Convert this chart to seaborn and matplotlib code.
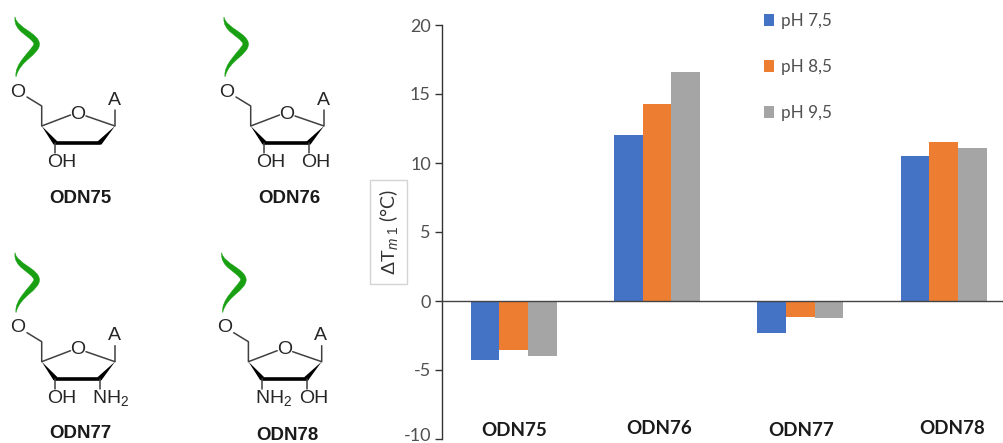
import matplotlib
matplotlib.use("Agg")
import matplotlib.pyplot as plt
from matplotlib.path import Path
from matplotlib.patches import PathPatch, Polygon, Rectangle
from matplotlib.transforms import Affine2D, ScaledTranslation
import pandas as pd
import seaborn as sns

categories = ["ODN75", "ODN76", "ODN77", "ODN78"]
ph_75 = [-4.3, 12.0, -2.3, 10.5]
ph_85 = [-3.55, 14.3, -1.15, 11.5]
ph_95 = [-3.95, 16.6, -1.25, 11.1]
series_names = ["pH 7,5", "pH 8,5", "pH 9,5"]
colors = ["#4472C4", "#ED7D31", "#A5A5A5"]
y_ticks = [-10, -5, 0, 5, 10, 15, 20]

df = pd.DataFrame({"cat": categories * 3,
                   "val": ph_75 + ph_85 + ph_95,
                   "ph": [s for s in series_names for _ in categories]})

sns.set_theme(style="white")
plt.rcParams["axes.unicode_minus"] = False
plt.rcParams["mathtext.fontset"] = "custom"
plt.rcParams["mathtext.rm"] = "Liberation Sans"
plt.rcParams["mathtext.it"] = "Liberation Sans:italic"
W, H = 1004, 443
fig = plt.figure(figsize=(W / 100, H / 100), dpi=100, facecolor="white")

# chart
ax = fig.add_axes([442 / W, 1 - 439 / H, (1004 - 442) / W, (439 - 25) / H])
sns.barplot(data=df, x="cat", y="val", hue="ph", hue_order=series_names,
            palette=colors, saturation=1, width=0.6, gap=0, ax=ax, order=categories,
            linewidth=0, edgecolor="none")
ax.set_xlim(-0.5, 3.42)
ax.set_ylim(-10, 20)
ax.set_yticks(y_ticks)
ax.set_xticks([])
ax.set_xlabel("")
ax.set_ylabel("")
for s in ["top", "right"]:
    ax.spines[s].set_visible(False)
ax.spines["bottom"].set_position(("data", 0))
ax.spines["bottom"].set_color("#444444")
ax.spines["bottom"].set_linewidth(1)
ax.spines["left"].set_color("#333333")
ax.spines["left"].set_linewidth(1)
ax.tick_params(axis="y", left=True, length=5, width=1, color="#333333", pad=3,
               labelsize=13, labelcolor="#505050")
for t in ax.get_yticklabels():
    t.set_fontfamily("Lato")
low = ax.get_yticklabels()[0]
low.set_transform(low.get_transform() + ScaledTranslation(0, 3 / 72, fig.dpi_scale_trans))
ax.patch.set_alpha(0)

handles, labels = ax.get_legend_handles_labels()
ax.legend(handles, labels, loc="upper left", bbox_to_anchor=(750 / W, 1 + 1 / H),
          bbox_transform=fig.transFigure, frameon=False, handlelength=0.62,
          handleheight=0.72, handletextpad=0.4, labelspacing=1.77, borderpad=0.3,
          prop={"family": "Lato", "size": 12.3}, labelcolor="#505050")

# pixel overlay for the structures and free labels
ov = fig.add_axes([0, 0, 1, 1], zorder=5)
ov.set_xlim(0, W)
ov.set_ylim(H, 0)
ov.axis("off")
ov.patch.set_alpha(0)

ov.add_patch(Rectangle((370, 180), 37, 104, fc="white", ec="#D4D4D4", lw=1))
ylab = ov.text(388.5, 232, r"$\mathrm{\Delta T}_{m\ \mathrm{1}}$ (°C)", rotation=90, ha="center", va="center",
               fontsize=14, color="#333333", family="Lato")
ylab.set_math_fontfamily("custom")

label_pos = [(514, 431), (659, 429), (801, 431), (952, 429)]
for name, (px, py) in zip(categories, label_pos):
    ov.text(px, py, name, ha="center", va="center", fontsize=13.5, fontweight="bold",
            family="Lato", color="#1A1A1A")

def atom(x, y, s, ha="center"):
    t = ov.text(x, y, s, ha=ha, va="center", fontsize=14, family="Liberation Sans",
                color="#262626", zorder=4)
    t.set_math_fontfamily("custom")

def bond(x0, y0, pts):
    xs = [x0 + p[0] for p in pts]
    ys = [y0 + p[1] for p in pts]
    ov.plot(xs, ys, color="#404040", lw=1.1, solid_capstyle="round", zorder=3)

def structure(dx, dy, left, right, left_x, right_x):
    ribbon = Path([(15, 17), (17, 28), (39, 33), (39.5, 44), (39.5, 55), (20, 60), (16, 77),
                   (14, 64), (30, 52), (34, 44), (31, 36), (13, 32), (15, 17)],
                  [1, 4, 4, 4, 4, 4, 4, 4, 4, 4, 4, 4, 4])
    ov.add_patch(PathPatch(ribbon.transformed(Affine2D().translate(dx, dy) + ov.transData),
                           fc="#18A012", ec="#18A012", lw=0.3, transform=None, zorder=3))
    atom(dx + 17.5, dy + 92, "O")
    bond(dx, dy, [(27, 97), (41.7, 106), (41.7, 126), (70.5, 115)])
    atom(dx + 77.5, dy + 114, "O")
    bond(dx, dy, [(86, 116), (115, 126), (115, 110)])
    atom(dx + 114, dy + 100, "A")
    c3, c2, c1, c4 = (55, 143), (100, 143), (115, 126), (41.7, 126)
    ov.add_patch(Polygon([(dx + c4[0], dy + c4[1]), (dx + c3[0] - 1.5, dy + c3[1] + 1.5), (dx + c3[0] + 2.5, dy + c3[1] - 1.5)],
                         fc="black", ec="none", zorder=3))
    ov.add_patch(Polygon([(dx + c1[0], dy + c1[1]), (dx + c2[0] + 1.5, dy + c2[1] + 1.5), (dx + c2[0] - 2.5, dy + c2[1] - 1.5)],
                         fc="black", ec="none", zorder=3))
    ov.plot([dx + c3[0], dx + c2[0]], [dy + c3[1], dy + c3[1]], color="black", lw=2.6, zorder=3)
    bond(dx, dy, [(55, 143), (55, 153)])
    atom(dx + left_x, dy + 162.5, left)
    if right:
        bond(dx, dy, [(100, 143), (100, 153)])
        atom(dx + right_x, dy + 162.5, right)

OH = "OH"
NH2 = r"NH$_{\mathrm{2}}$"
structure(0, 0, OH, None, 61.7, 0)
structure(209, 0, OH, OH, 61.7, 107)
structure(0, 235.7, OH, NH2, 61.7, 111)
structure(206.7, 235.7, NH2, OH, 66.5, 107.5)

for name, (px, py) in zip(categories, [(80, 198), (289, 198), (80, 433), (287, 435)]):
    ov.text(px, py, name, ha="center", va="center", fontsize=13.4, fontweight="bold",
            family="Liberation Sans", color="#1A1A1A")

fig.savefig("out.png", dpi=100)
